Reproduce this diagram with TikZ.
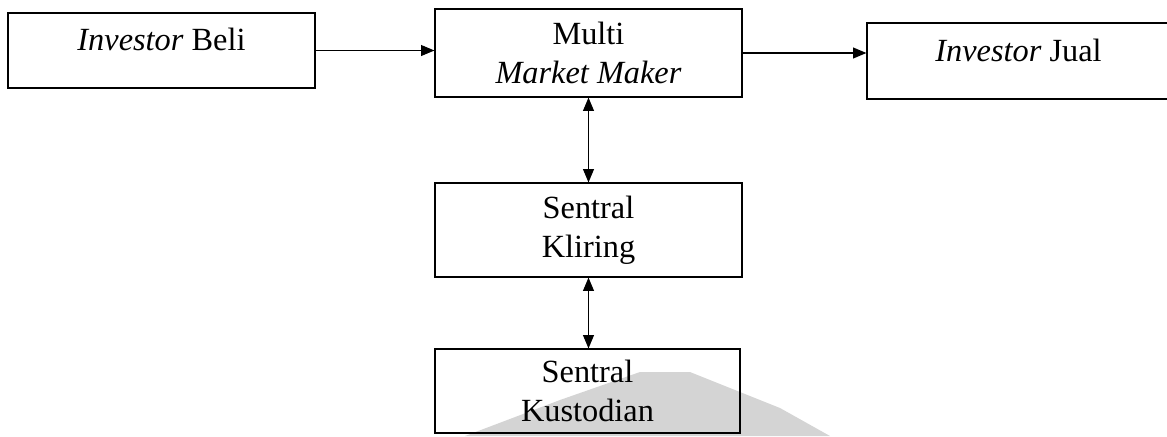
\documentclass[tikz,border=0pt]{standalone}
\usepackage{fontspec}
\setmainfont{Liberation Serif}
\usetikzlibrary{arrows.meta}
\usetikzlibrary{calc}

\begin{document}
\begin{tikzpicture}[x=0.025cm,y=-0.025cm,>/.tip={Triangle[length=0.33cm,width=0.27cm]},
	box/.style={draw,line width=0.8pt,align=center,inner sep=0pt,
		font=\fontsize{23}{28}\selectfont},
	oneline/.style={text height=0.5cm,text depth=0.5cm}]
\useasboundingbox (0,0) rectangle (1167,436);
% watermark
\fill[black!17] (465,436) -- (560,400) -- (640,372) -- (690,372) -- (780,408) -- (830,436) -- cycle;
\draw (161.5,50.5) node[box,oneline,minimum width=7.675cm,minimum height=1.875cm] (beli) {\textit{Investor} Beli};
\draw (588.5,53) node[box,minimum width=7.675cm,minimum height=2.2cm] (multi) {Multi\\\textit{Market Maker}};
\draw (1018.5,61) node[box,oneline,minimum width=7.575cm,minimum height=1.9cm] (jual) {\textit{Investor} Jual};
\draw (588.5,230) node[box,minimum width=7.675cm,minimum height=2.35cm] (kliring) {Sentral\\Kliring};
\draw (587.5,391) node[box,minimum width=7.625cm,minimum height=2.1cm] (kustodian) {Sentral\\Kustodian};
\draw[->,line width=0.8pt] (beli.east) -- (beli.east -| multi.west);
\draw[->,line width=0.8pt] (multi.east) -- (multi.east -| jual.west);
\draw[<->,line width=0.8pt] (multi.south) -- (multi.south |- kliring.north);
\draw[<->,line width=0.8pt] (kliring.south) -- (kliring.south |- kustodian.north);
\end{tikzpicture}
\end{document}
